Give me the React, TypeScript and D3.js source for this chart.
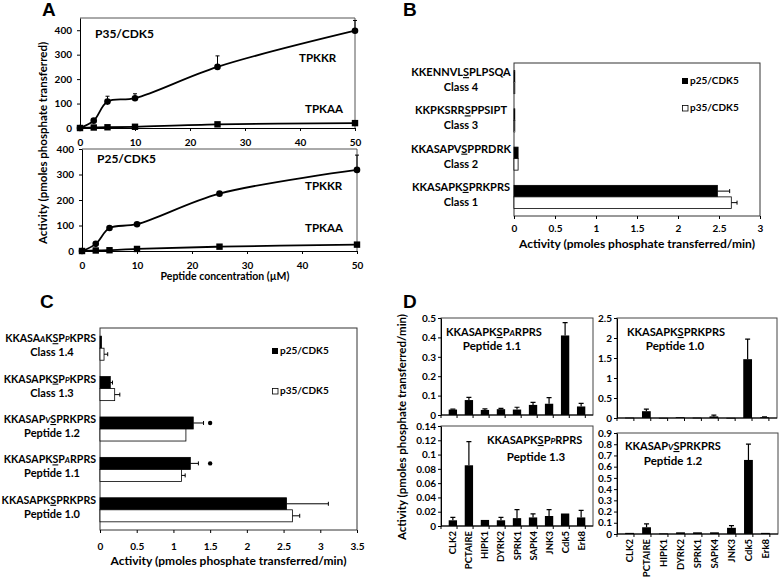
import React, { useEffect, useRef } from 'react';
import * as d3 from 'd3';

const FONT = 'Lato, "Open Sans", sans-serif';

// ---- panel A: activity vs peptide concentration ----
const concentrations = [0, 2.5, 5, 10, 25, 50];
const concTicks = [0, 10, 20, 30, 40, 50];
const activityTicks = [0, 100, 200, 300, 400];
const p35Tpkkr = [0, 30, 108, 122, 250, 398];
const p35TpkkrErr = [0, 0, 22, 18, 45, 42];
const p35Tpkaa = [0, 2, 3, 5, 15, 20];
const p25Tpkkr = [0, 28, 90, 105, 225, 318];
const p25TpkkrErr = [0, 0, 0, 0, 0, 58];
const p25Tpkaa = [0, 2, 3, 8, 17, 25];

// ---- panel B: peptide classes ----
// "_" marks the underlined residue, lowercase = modified (italic) residue
const bSequences = ['KKENNVL_SPLPSQA', 'KKPKSRR_SPPSIPT', 'KKASAPV_SPPRDRK', 'KKASAPK_SPRKPRS'];
const bClasses = ['Class 4', 'Class 3', 'Class 2', 'Class 1'];
const bP25 = [0.01, 0.01, 0.05, 2.48];
const bP25Err = [0, 0, 0, 0.15];
const bP35 = [0.01, 0.01, 0.05, 2.65];
const bP35Err = [0, 0, 0, 0.07];
const bTicks = [0, 0.5, 1, 1.5, 2, 2.5, 3];

// ---- panel C: class 1 variants ----
const cSequences = ['KKASAaK_SPpKPRS', 'KKASAPK_SPpKPRS', 'KKASAPv_SPRKPRS', 'KKASAPK_SPaRPRS', 'KKASAPK_SPRKPRS'];
const cNames = ['Class 1.4', 'Class 1.3', 'Peptide 1.2', 'Peptide 1.1', 'Peptide 1.0'];
const cP25 = [0.02, 0.14, 1.27, 1.23, 2.54];
const cP25Err = [0, 0.03, 0.14, 0.11, 0.57];
const cP35 = [0.055, 0.2, 1.17, 1.11, 2.62];
const cP35Err = [0.05, 0.07, 0, 0.05, 0.1];
const cSignificant = [false, false, true, true, false];
const cTicks = [0, 0.5, 1, 1.5, 2, 2.5, 3, 3.5];

// ---- panel D: kinase panel ----
const kinases = ['CLK2', 'PCTAIRE', 'HIPK1', 'DYRK2', 'SPRK1', 'SAPK4', 'JNK3', 'Cdk5', 'Erk8'];
const pep11 = [0.028, 0.077, 0.026, 0.03, 0.028, 0.052, 0.058, 0.41, 0.044];
const pep11Err = [0.002, 0.014, 0.006, 0.004, 0.012, 0.013, 0.032, 0.066, 0.016];
const pep10 = [0.01, 0.17, 0.005, 0.02, 0.01, 0.04, 0.005, 1.47, 0.02];
const pep10Err = [0, 0.05, 0, 0, 0, 0.03, 0, 0.5, 0.01];
const pep13 = [0.008, 0.085, 0.0085, 0.008, 0.011, 0.012, 0.014, 0.0175, 0.012];
const pep13Err = [0.004, 0.033, 0, 0.004, 0.012, 0.005, 0.009, 0, 0.01];
const pep12 = [0.01, 0.06, 0.005, 0.015, 0.015, 0.015, 0.055, 0.66, 0.01];
const pep12Err = [0, 0.03, 0, 0, 0, 0, 0.02, 0.14, 0];
const pep11Ticks = [0, 0.1, 0.2, 0.3, 0.4, 0.5];
const pep10Ticks = [0, 0.5, 1, 1.5, 2, 2.5];
const pep13Ticks = [0, 0.02, 0.04, 0.06, 0.08, 0.1, 0.12, 0.14];
const pep12Ticks = [0, 0.1, 0.2, 0.3, 0.4, 0.5, 0.6, 0.7, 0.8, 0.9];

function label(svg, text, x, y, size = 11, anchor = 'start') {
  return svg.append('text')
    .attr('x', x).attr('y', y)
    .attr('font-size', size)
    .attr('text-anchor', anchor)
    .text(text);
}

function sequence(svg, code, x, y, anchor, size = 11) {
  const t = svg.append('text')
    .attr('x', x).attr('y', y)
    .attr('font-size', size)
    .attr('text-anchor', anchor);
  let under = false;
  for (const ch of code) {
    if (ch === '_') { under = true; continue; }
    const modified = ch !== ch.toUpperCase();
    const ts = t.append('tspan').text(ch.toUpperCase());
    if (modified) ts.attr('font-style', 'italic').attr('font-size', size * 0.75);
    if (under) ts.style('text-decoration', 'underline');
    under = false;
  }
}

function styleAxis(g, size = 10) {
  g.attr('font-family', FONT).attr('font-size', size).attr('font-weight', 700);
  g.selectAll('line, path').attr('stroke', '#000');
  g.selectAll('text').attr('fill', '#000');
}

function drawLinePanel(svg, o) {
  const x = d3.scaleLinear().domain([0, 50]).range([o.left, o.right]);
  const y = d3.scaleLinear().domain([0, o.ymax]).range([o.bottom, o.top]);

  // frame
  svg.append('path')
    .attr('d', `M${o.left},${o.top}H${o.right}V${o.bottom}`)
    .attr('fill', 'none').attr('stroke', '#555').attr('stroke-width', 1);

  svg.append('g')
    .attr('transform', `translate(0,${o.bottom})`)
    .call(d3.axisBottom(x).tickValues(concTicks).tickSize(3).tickSizeOuter(0).tickPadding(8))
    .call(g => styleAxis(g, 10));
  svg.append('g')
    .attr('transform', `translate(${o.left},0)`)
    .call(d3.axisLeft(y).tickValues(activityTicks).tickSize(3).tickSizeOuter(0).tickPadding(5))
    .call(g => styleAxis(g, 10));

  const line = d3.line<number>()
    .x((d, i) => x(concentrations[i]))
    .y(d => y(d))
    .curve(d3.curveCatmullRom.alpha(0.5));

  // error bars (upwards only)
  o.kkr.forEach((v, i) => {
    const e = o.kkrErr[i];
    if (!e) return;
    const cx = x(concentrations[i]);
    svg.append('path')
      .attr('d', `M${cx},${y(v)}V${y(v + e)}M${cx - 2},${y(v + e)}H${cx + 2}`)
      .attr('stroke', '#000').attr('fill', 'none');
  });

  svg.append('path').datum(o.kkr).attr('d', line)
    .attr('fill', 'none').attr('stroke', '#000').attr('stroke-width', 1.8);
  svg.append('path').datum(o.kaa).attr('d', line)
    .attr('fill', 'none').attr('stroke', '#000').attr('stroke-width', 1.8);

  svg.selectAll(null).data(o.kkr).enter().append('circle')
    .attr('cx', (d, i) => x(concentrations[i])).attr('cy', d => y(d))
    .attr('r', 3.3).attr('fill', '#000');
  svg.selectAll(null).data(o.kaa).enter().append('rect')
    .attr('x', (d, i) => x(concentrations[i]) - 3.2).attr('y', d => y(d) - 3.2)
    .attr('width', 6.4).attr('height', 6.4).attr('fill', '#000');

  label(svg, o.title, o.left + 15, o.titleY, 12);
  label(svg, 'TPKKR', o.kkrX, o.kkrY, 11.5);
  label(svg, 'TPKAA', 305, o.kaaY, 11.5);
}

function drawHBars(svg, o) {
  const x = d3.scaleLinear().domain([0, o.max]).range([o.left, o.right]);
  const y = d3.scaleBand().domain(o.names).range([o.top, o.bottom]);
  const sub = d3.scaleBand().domain(['p25', 'p35']).range([0, y.bandwidth()]).paddingOuter(o.pad);

  svg.append('rect')
    .attr('x', o.left).attr('y', o.top)
    .attr('width', o.right - o.left).attr('height', o.bottom - o.top)
    .attr('fill', 'none').attr('stroke', '#333');

  const series = [
    { key: 'p25', values: o.p25, errs: o.p25Err, fill: '#000' },
    { key: 'p35', values: o.p35, errs: o.p35Err, fill: '#fff' },
  ];
  series.forEach(s => {
    s.values.forEach((v, i) => {
      const y0 = y(o.names[i]) + sub(s.key);
      const h = sub.bandwidth();
      svg.append('rect')
        .attr('x', x(0)).attr('y', y0)
        .attr('width', x(v) - x(0)).attr('height', h)
        .attr('fill', s.fill).attr('stroke', '#000').attr('stroke-width', 0.8);
      const e = s.errs[i];
      if (e) {
        const cy = y0 + h / 2;
        svg.append('path')
          .attr('d', `M${x(v)},${cy}H${x(v + e)}M${x(v + e)},${cy - 2}V${cy + 2}`)
          .attr('stroke', '#000').attr('fill', 'none');
      }
    });
  });

  if (o.sig) {
    o.sig.forEach((s, i) => {
      if (!s) return;
      svg.append('circle')
        .attr('cx', x(1.5)).attr('cy', y(o.names[i]) + sub('p25') + sub.bandwidth() / 2)
        .attr('r', 2.2).attr('fill', '#000');
    });
  }

  svg.append('g')
    .attr('transform', `translate(0,${o.bottom})`)
    .call(d3.axisBottom(x).tickValues(o.ticks).tickSize(3).tickSizeOuter(0).tickPadding(o.tickPad).tickFormat(d3.format('')))
    .call(g => styleAxis(g, 10))
    .call(g => g.select('.domain').remove());

  o.names.forEach((n, i) => {
    const cy = y(n) + y.bandwidth() / 2;
    sequence(svg, o.seqs[i], o.seqX, cy + o.seqDy, o.seqAnchor, o.seqSize);
    label(svg, n, o.nameX, cy + o.nameDy, 11, 'middle');
  });

  label(svg, 'Activity (pmoles phosphate transferred/min)', (o.left + o.right) / 2, o.bottom + o.titleDy, 12, 'middle');

  // legend
  svg.append('rect').attr('x', o.legendX).attr('y', o.legendY1 - 6).attr('width', 6).attr('height', 6)
    .attr('fill', '#000');
  label(svg, 'p25/CDK5', o.legendX + 8, o.legendY1, 10);
  svg.append('rect').attr('x', o.legendX + 0.5).attr('y', o.legendY2 - 5.5).attr('width', 5.5).attr('height', 5.5)
    .attr('fill', '#fff').attr('stroke', '#000').attr('stroke-width', 0.8);
  label(svg, 'p35/CDK5', o.legendX + 8, o.legendY2, 10);
}

function drawVBars(svg, o) {
  const x = d3.scaleBand().domain(kinases).range([o.left, o.right]).padding(0.48);
  const y = d3.scaleLinear().domain([0, o.ticks[o.ticks.length - 1]]).range([o.bottom, o.top]);

  svg.append('rect')
    .attr('x', o.left).attr('y', o.top)
    .attr('width', o.right - o.left).attr('height', o.bottom - o.top)
    .attr('fill', 'none').attr('stroke', '#444');

  o.values.forEach((v, i) => {
    const bx = x(kinases[i]);
    svg.append('rect')
      .attr('x', bx).attr('y', y(v))
      .attr('width', x.bandwidth()).attr('height', Math.max(0.8, y(0) - y(v)))
      .attr('fill', '#000');
    const e = o.errs[i];
    if (e) {
      const cx = bx + x.bandwidth() / 2;
      svg.append('path')
        .attr('d', `M${cx},${y(v)}V${y(v + e)}M${cx - 2.5},${y(v + e)}H${cx + 2.5}`)
        .attr('stroke', '#000').attr('stroke-width', 1.2).attr('fill', 'none');
    }
  });

  svg.append('g')
    .attr('transform', `translate(${o.left},0)`)
    .call(d3.axisLeft(y).tickValues(o.ticks).tickSize(3).tickSizeOuter(0).tickPadding(2).tickFormat(d3.format('')))
    .call(g => styleAxis(g, 10));

  // category axis with ticks between bars
  const step = x.step();
  const xg = svg.append('g');
  xg.append('line').attr('x1', o.left).attr('x2', o.right).attr('y1', o.bottom).attr('y2', o.bottom)
    .attr('stroke', '#000');
  d3.range(kinases.length + 1).forEach(i => {
    xg.append('line')
      .attr('x1', o.left + i * step).attr('x2', o.left + i * step)
      .attr('y1', o.bottom).attr('y2', o.bottom + 3)
      .attr('stroke', '#000');
  });
  if (o.showCategories) {
    kinases.forEach(k => {
      const cx = x(k) + x.bandwidth() / 2;
      svg.append('text')
        .attr('transform', `translate(${cx + 3.5},${o.bottom + 5}) rotate(-90)`)
        .attr('text-anchor', 'end')
        .attr('font-size', 9.5)
        .text(k);
    });
  }

  sequence(svg, o.seq, o.seqX, o.seqY, 'start');
  label(svg, o.name, o.nameX, o.nameY, 11.5, 'middle');
}

function draw(node) {
  const svg = d3.select(node);
  svg.selectAll('*').remove();
  svg.attr('font-family', FONT).attr('font-weight', 700);

  // panel letters
  label(svg, 'A', 42, 16, 19).attr('font-family', 'Arial, "Liberation Sans", sans-serif');
  label(svg, 'B', 403, 16, 19).attr('font-family', 'Arial, "Liberation Sans", sans-serif');
  label(svg, 'C', 40, 308, 19).attr('font-family', 'Arial, "Liberation Sans", sans-serif');
  label(svg, 'D', 403, 308, 19).attr('font-family', 'Arial, "Liberation Sans", sans-serif');

  // ---- A ----
  drawLinePanel(svg, {
    left: 80, right: 355, top: 18, bottom: 128, ymax: 450,
    kkr: p35Tpkkr, kkrErr: p35TpkkrErr, kaa: p35Tpkaa,
    title: 'P35/CDK5', titleY: 38, kkrX: 299, kkrY: 62, kaaY: 113,
  });
  drawLinePanel(svg, {
    left: 82, right: 357, top: 149, bottom: 251, ymax: 400,
    kkr: p25Tpkkr, kkrErr: p25TpkkrErr, kaa: p25Tpkaa,
    title: 'P25/CDK5', titleY: 163, kkrX: 305, kkrY: 190, kaaY: 232,
  });
  svg.append('text')
    .attr('transform', 'translate(47,143) rotate(-90)')
    .attr('text-anchor', 'middle').attr('font-size', 11.5)
    .text('Activity (pmoles phosphate transferred)');
  label(svg, 'Peptide concentration (\u00b5M)', 225, 280, 10.5, 'middle');

  // ---- B ----
  drawHBars(svg, {
    left: 514, right: 760, top: 63, bottom: 216, max: 3, ticks: bTicks, tickPad: 6, pad: 0.66,
    names: bClasses, seqs: bSequences, p25: bP25, p25Err: bP25Err, p35: bP35, p35Err: bP35Err,
    seqX: 461, seqAnchor: 'middle', seqSize: 11, seqDy: -6, nameX: 461, nameDy: 9, titleDy: 32,
    legendX: 682, legendY1: 84, legendY2: 111,
  });

  // ---- C ----
  drawHBars(svg, {
    left: 100, right: 357, top: 328, bottom: 530, max: 3.5, ticks: cTicks, tickPad: 10, pad: 0.68,
    names: cNames, seqs: cSequences, p25: cP25, p25Err: cP25Err, p35: cP35, p35Err: cP35Err,
    sig: cSignificant,
    seqX: 96, seqAnchor: 'end', seqSize: 10.6, seqDy: -6, nameX: 52, nameDy: 8, titleDy: 35,
    legendX: 272, legendY1: 354, legendY2: 394,
  });

  // ---- D ----
  drawVBars(svg, {
    left: 441, right: 593, top: 318, bottom: 415, ticks: pep11Ticks,
    values: pep11, errs: pep11Err, seq: 'KKASAPK_SPaRPRS', name: 'Peptide 1.1',
    seqX: 446, seqY: 336, nameX: 492, nameY: 350,
  });
  drawVBars(svg, {
    left: 617, right: 777, top: 318, bottom: 418, ticks: pep10Ticks,
    values: pep10, errs: pep10Err, seq: 'KKASAPK_SPRKPRS', name: 'Peptide 1.0',
    seqX: 627, seqY: 336, nameX: 675, nameY: 350,
  });
  drawVBars(svg, {
    left: 441, right: 593, top: 426, bottom: 526, ticks: pep13Ticks, showCategories: true,
    values: pep13, errs: pep13Err, seq: 'KKASAPK_SPpRPRS', name: 'Peptide 1.3',
    seqX: 487, seqY: 444, nameX: 536, nameY: 461,
  });
  drawVBars(svg, {
    left: 617, right: 778, top: 433, bottom: 534, ticks: pep12Ticks, showCategories: true,
    values: pep12, errs: pep12Err, seq: 'KKASAPv_SPRKPRS', name: 'Peptide 1.2',
    seqX: 625, seqY: 450, nameX: 673, nameY: 465,
  });
  svg.append('text')
    .attr('transform', 'translate(406,427) rotate(-90)')
    .attr('text-anchor', 'middle').attr('font-size', 11.5)
    .text('Activity (pmoles phosphate transferred/min)');
}

export default function App() {
  const ref = useRef<SVGSVGElement>(null);
  useEffect(() => {
    if (ref.current) draw(ref.current);
  }, []);
  return (
    <svg ref={ref} width={779} height={577}
      style={{ position: 'absolute', left: 0, top: 0, background: '#fff' }} />
  );
}
